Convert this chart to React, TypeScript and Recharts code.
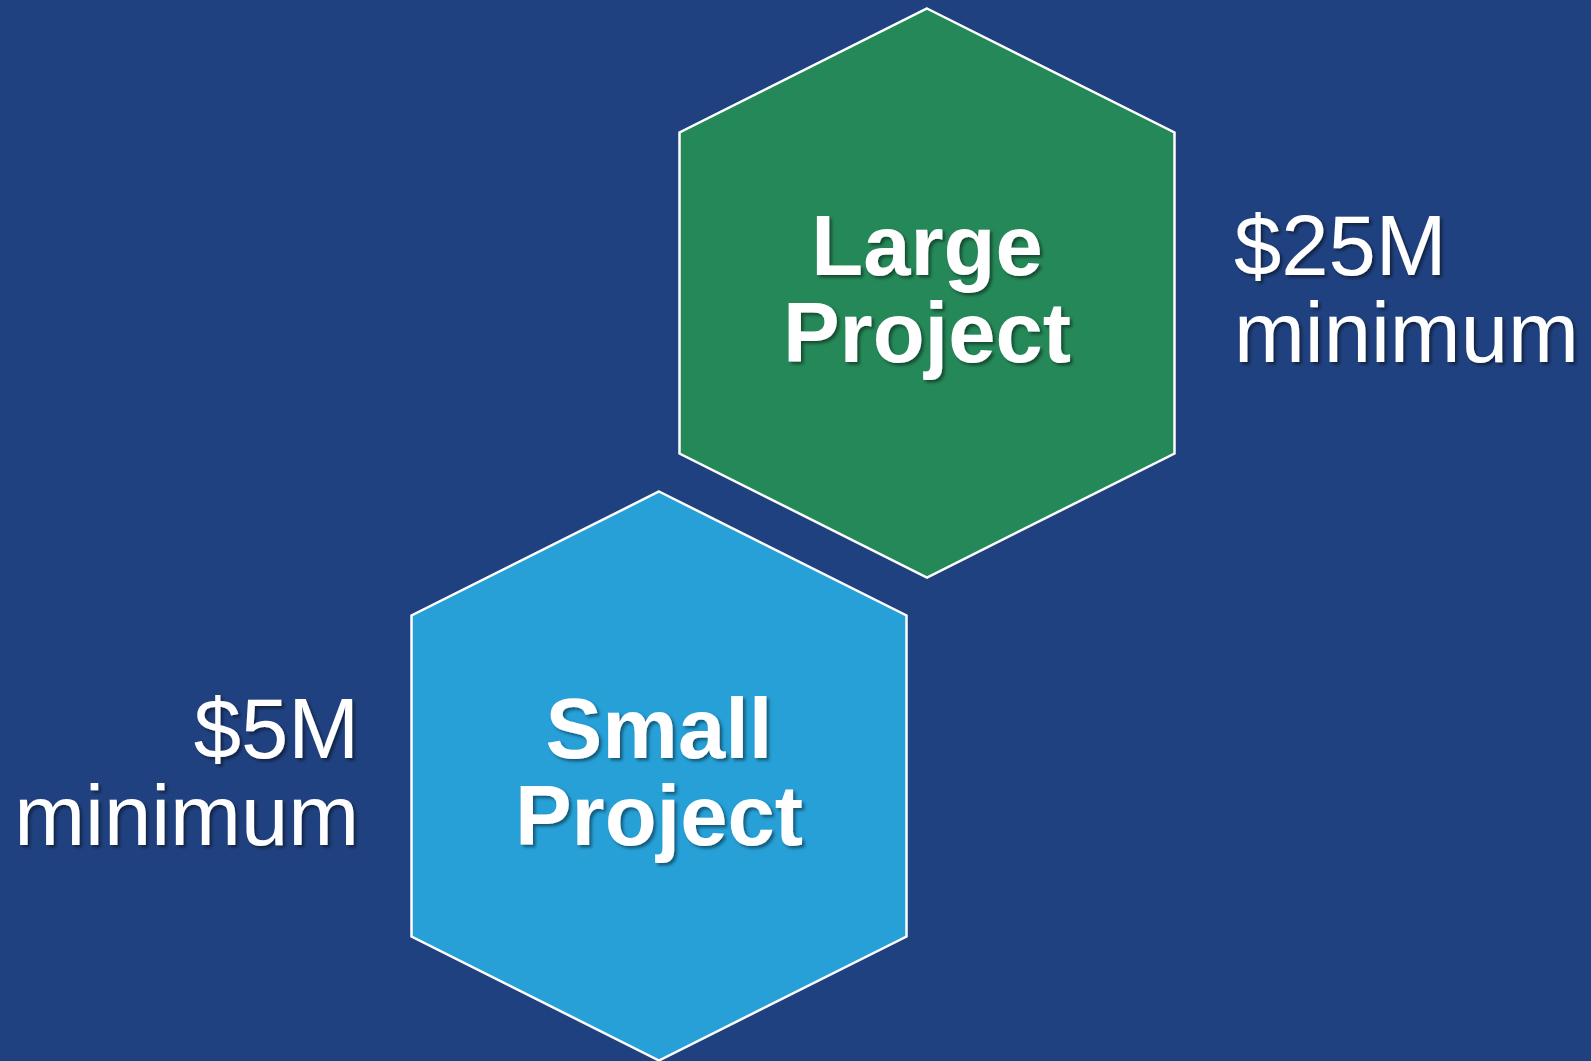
import { ScatterChart, Scatter, XAxis, YAxis } from 'recharts'

const W = 1591
const H = 1061

// diagram values
const projectTitles = [['Large', 'Project'], ['Small', 'Project']]
const minimumLabels = ['$25M', '$5M']
const centerX = [927, 659]
const centerY = [293, 776]
const noteSide = ['right', 'left']

const FILLS = ['#258858', '#26A0D7']
const BG = '#20417F'
const FONT = '"Liberation Sans", Arial, Helvetica, sans-serif'

// hexagon geometry (px)
const HALF_W = 247.5
const HALF_H = 284.5
const SHOULDER = 124
const NOTE_GAP_RIGHT = 307
const NOTE_GAP_LEFT = 300
const FONT_SIZE = 85

const data = projectTitles.map((title, i) => ({
  x: centerX[i],
  y: centerY[i],
  title,
  minimum: minimumLabels[i],
  side: noteSide[i],
  idx: i,
}))

function Hexagon(props: any) {
  const { cx, cy, payload } = props
  const i = payload.idx
  const fid = `shadow-${i}`
  const side = HALF_H - SHOULDER
  const pts = [
    [cx, cy - HALF_H],
    [cx + HALF_W, cy - side],
    [cx + HALF_W, cy + side],
    [cx, cy + HALF_H],
    [cx - HALF_W, cy + side],
    [cx - HALF_W, cy - side],
  ]
    .map((p) => p.join(','))
    .join(' ')
  const right = payload.side === 'right'
  const noteX = right ? cx + NOTE_GAP_RIGHT : cx - NOTE_GAP_LEFT
  const y1 = cy - 18
  const y2 = cy + 69

  return (
    <g>
      <defs>
        <filter id={fid} x="-10%" y="-10%" width="130%" height="140%">
          <feDropShadow dx="2.5" dy="2.5" stdDeviation="1.6" floodColor="#000" floodOpacity="0.45" />
        </filter>
      </defs>
      <polygon points={pts} fill={FILLS[i]} stroke="#fff" strokeWidth={2.5} />
      <g filter={`url(#${fid})`} fill="#fff" fontFamily={FONT} fontSize={FONT_SIZE}>
        <text x={cx} y={y1} textAnchor="middle" fontWeight="bold">
          {payload.title[0]}
        </text>
        <text x={cx} y={y2} textAnchor="middle" fontWeight="bold">
          {payload.title[1]}
        </text>
        <text x={noteX} y={y1} textAnchor={right ? 'start' : 'end'}>
          {payload.minimum}
        </text>
        <text x={noteX} y={y2} textAnchor={right ? 'start' : 'end'}>
          minimum
        </text>
      </g>
    </g>
  )
}

export default function App() {
  return (
    <div style={{ position: 'fixed', left: 0, top: 0, width: W, height: H, background: BG, overflow: 'hidden' }}>
      <ScatterChart width={W} height={H} margin={{ top: 0, right: 0, bottom: 0, left: 0 }}>
        <XAxis type="number" dataKey="x" domain={[0, W]} hide />
        <YAxis type="number" dataKey="y" domain={[0, H]} reversed hide />
        <Scatter data={data} shape={Hexagon} isAnimationActive={false} />
      </ScatterChart>
    </div>
  )
}
